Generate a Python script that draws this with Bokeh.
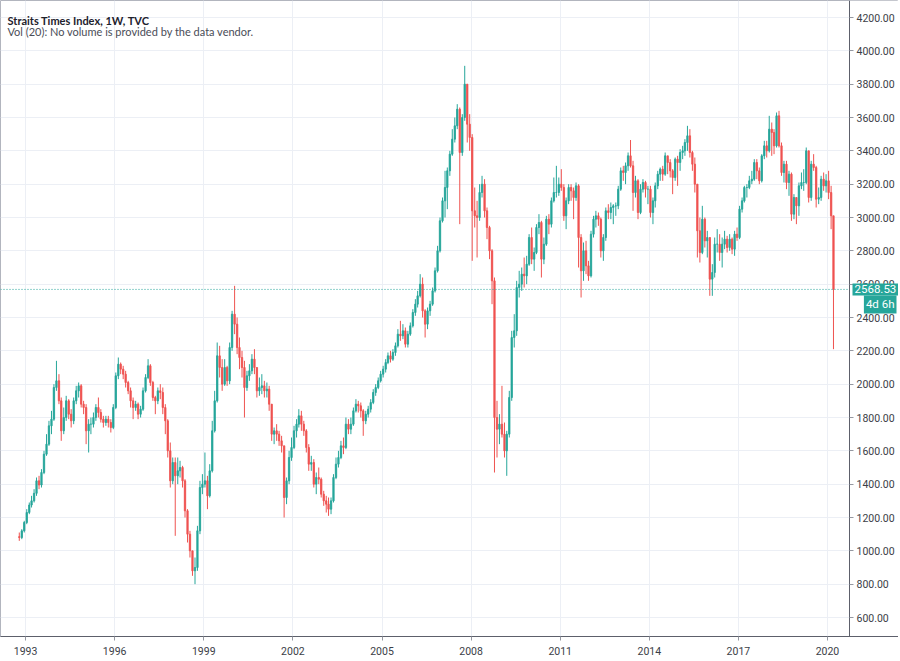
import pandas as pd
from bokeh.plotting import figure
from bokeh.models import (ColumnDataSource, Range1d, FixedTicker, NumeralTickFormatter,
                          DatetimeTickFormatter, Label, BoxAnnotation)
from bokeh.embed import file_html
from bokeh.resources import INLINE

# ---------------- data (monthly OHLC) ----------------
months = list(pd.date_range("1992-10-01", "2020-03-01", freq="MS") + pd.Timedelta(days=14))

open_ = [
    1085, 1080, 1120,
    1170, 1230, 1275, 1300, 1345, 1420, 1395, 1470, 1580, 1640, 1750, 1790,
    1980, 2020, 1900, 1720, 1800, 1900, 1820, 1780, 1900, 1960, 1990, 1880,
    1860, 1720, 1760, 1760, 1800, 1860, 1830, 1790, 1770, 1790, 1770, 1740,
    1860, 2050, 2120, 2090, 2060, 2010, 1960, 1900, 1860, 1880, 1820, 1850,
    1960, 2040, 2110, 2010, 1920, 1900, 1960, 1950, 1860, 1780, 1600, 1420,
    1530, 1450, 1480, 1500, 1420, 1240, 1100, 1000, 880, 900, 1120, 1380,
    1400, 1420, 1330, 1480, 1720, 1900, 2170, 2100, 2000, 2100, 2020, 2220,
    2420, 2360, 2220, 2160, 2100, 1980, 2050, 2080, 2150, 2100, 1960, 1980,
    1990, 1960, 1970, 1880, 1700, 1720, 1700, 1660, 1630, 1320, 1420, 1560,
    1620, 1720, 1760, 1810, 1760, 1720, 1620, 1520, 1530, 1400, 1440, 1430,
    1340, 1300, 1280, 1250, 1300, 1440, 1520, 1560, 1630, 1620, 1760, 1730,
    1760, 1840, 1880, 1870, 1840, 1780, 1820, 1850, 1890, 1950, 1980, 2020,
    2060, 2090, 2130, 2170, 2150, 2190, 2230, 2300, 2290, 2320, 2240, 2300,
    2350, 2430, 2480, 2530, 2600, 2440, 2360, 2440, 2480, 2560, 2680, 2800,
    2980, 3100, 3180, 3280, 3380, 3470, 3550, 3650, 3390, 3600, 3800, 3560,
    3480, 3040, 3010, 3000, 3150, 3200, 3040, 2940, 2800, 2620, 1800, 1730,
    1760, 1700, 1600, 1700, 1920, 2280, 2320, 2580, 2600, 2660, 2650, 2720,
    2880, 2750, 2790, 2940, 2970, 2750, 2840, 2990, 2960, 3100, 3150, 3150,
    3200, 3180, 3010, 3100, 3180, 3160, 3120, 3190, 2880, 2680, 2800, 2710,
    2650, 2900, 2990, 3010, 2990, 2800, 2880, 3040, 3030, 3060, 3070, 3070,
    3170, 3280, 3270, 3310, 3370, 3310, 3150, 3220, 3030, 3170, 3210, 3170,
    3170, 3030, 3100, 3190, 3260, 3290, 3260, 3370, 3330, 3280, 3240, 3350,
    3330, 3390, 3400, 3450, 3490, 3390, 3320, 3200, 2920, 2790, 2990, 2860,
    2880, 2630, 2670, 2840, 2840, 2790, 2840, 2870, 2820, 2870, 2810, 2900,
    2880, 3050, 3100, 3180, 3180, 3220, 3230, 3330, 3280, 3220, 3370, 3430,
    3400, 3530, 3510, 3430, 3610, 3430, 3270, 3320, 3210, 3260, 3020, 3120,
    3070, 3190, 3210, 3210, 3400, 3120, 3320, 3300, 3110, 3120, 3230, 3190,
    3220, 3150, 3010,
]

high = [
    1110, 1130, 1180,
    1250, 1290, 1330, 1370, 1440, 1450, 1490, 1600, 1700, 1780, 1840, 2000,
    2140, 2060, 1920, 1860, 1930, 1910, 1850, 1920, 1990, 2010, 2000, 1900,
    1880, 1790, 1800, 1830, 1880, 1920, 1850, 1810, 1810, 1810, 1790, 1880,
    2070, 2160, 2130, 2110, 2080, 2020, 1980, 1920, 1900, 1890, 1870, 1980,
    2060, 2150, 2120, 2020, 1930, 1980, 2000, 1980, 1880, 1790, 1650, 1560,
    1560, 1560, 1540, 1510, 1430, 1250, 1120, 1000, 960, 1150, 1420, 1460,
    1590, 1450, 1520, 1780, 1960, 2250, 2230, 2150, 2150, 2110, 2250, 2440,
    2590, 2400, 2280, 2200, 2140, 2080, 2120, 2180, 2210, 2100, 2040, 2060,
    2020, 2010, 1990, 1880, 1740, 1760, 1720, 1690, 1630, 1440, 1600, 1680,
    1750, 1790, 1850, 1840, 1780, 1730, 1640, 1570, 1550, 1470, 1500, 1440,
    1360, 1330, 1320, 1320, 1460, 1560, 1600, 1660, 1680, 1800, 1790, 1800,
    1860, 1910, 1900, 1890, 1850, 1840, 1870, 1910, 1970, 2000, 2040, 2080,
    2110, 2150, 2190, 2200, 2210, 2250, 2330, 2380, 2360, 2340, 2320, 2370,
    2450, 2510, 2560, 2660, 2640, 2450, 2460, 2500, 2580, 2700, 2830, 3000,
    3120, 3280, 3300, 3400, 3530, 3600, 3680, 3660, 3620, 3910, 3800, 3620,
    3500, 3180, 3100, 3200, 3250, 3230, 3060, 2950, 2810, 2640, 1900, 1820,
    1990, 1770, 1720, 1960, 2320, 2420, 2620, 2680, 2700, 2760, 2770, 2900,
    2940, 2820, 2960, 3020, 2980, 2880, 3010, 3020, 3120, 3240, 3310, 3240,
    3290, 3200, 3120, 3200, 3200, 3180, 3210, 3200, 2900, 2850, 2860, 2740,
    2920, 3010, 3040, 3030, 3000, 2900, 3060, 3080, 3090, 3080, 3090, 3190,
    3300, 3310, 3330, 3390, 3465, 3340, 3250, 3230, 3200, 3230, 3220, 3190,
    3190, 3120, 3210, 3280, 3300, 3310, 3390, 3360, 3350, 3290, 3360, 3370,
    3410, 3430, 3470, 3550, 3530, 3400, 3360, 3200, 3000, 3070, 3000, 2920,
    2880, 2720, 2880, 2930, 2900, 2880, 2920, 2890, 2900, 2880, 2920, 2940,
    3070, 3120, 3190, 3200, 3250, 3280, 3350, 3350, 3300, 3380, 3460, 3460,
    3610, 3570, 3530, 3630, 3640, 3450, 3340, 3340, 3280, 3270, 3140, 3120,
    3210, 3270, 3290, 3420, 3400, 3340, 3380, 3310, 3180, 3250, 3270, 3260,
    3280, 3190, 3010,
]

low = [
    1060, 1070, 1110,
    1160, 1220, 1260, 1290, 1330, 1370, 1380, 1460, 1570, 1630, 1700, 1780,
    1960, 1880, 1660, 1700, 1780, 1790, 1740, 1760, 1880, 1920, 1860, 1820,
    1640, 1590, 1700, 1740, 1780, 1800, 1770, 1740, 1750, 1740, 1710, 1730,
    1850, 2030, 2060, 2030, 1980, 1940, 1860, 1790, 1840, 1790, 1800, 1840,
    1950, 2030, 1990, 1900, 1820, 1880, 1910, 1820, 1700, 1560, 1380, 1400,
    1090, 1400, 1440, 1380, 1200, 1050, 960, 850, 800, 880, 1100, 1340,
    1380, 1250, 1320, 1470, 1710, 1890, 2040, 1960, 1990, 1990, 2000, 2200,
    2300, 2180, 2090, 2040, 1800, 1960, 2020, 2060, 2060, 1920, 1930, 1940,
    1920, 1920, 1840, 1660, 1640, 1660, 1630, 1590, 1200, 1280, 1400, 1540,
    1610, 1680, 1740, 1720, 1690, 1590, 1480, 1480, 1380, 1340, 1400, 1320,
    1270, 1230, 1210, 1220, 1290, 1430, 1500, 1550, 1580, 1610, 1700, 1700,
    1750, 1830, 1830, 1800, 1690, 1760, 1800, 1830, 1880, 1930, 1970, 2010,
    2040, 2070, 2120, 2130, 2140, 2170, 2220, 2260, 2270, 2220, 2220, 2290,
    2340, 2410, 2460, 2520, 2400, 2280, 2330, 2410, 2470, 2550, 2670, 2790,
    2970, 3000, 3050, 3250, 3370, 3450, 3530, 2960, 3370, 3580, 3450, 3400,
    2740, 2940, 2760, 2980, 3120, 3000, 2870, 2750, 2480, 1470, 1560, 1640,
    1680, 1560, 1450, 1680, 1900, 2220, 2290, 2520, 2560, 2580, 2600, 2710,
    2720, 2680, 2780, 2900, 2640, 2720, 2830, 2900, 2940, 3090, 3120, 3130,
    3160, 2980, 2930, 3080, 3100, 2990, 3100, 2700, 2520, 2620, 2660, 2620,
    2640, 2880, 2940, 2950, 2760, 2740, 2860, 2990, 2990, 2960, 3010, 3050,
    3160, 3220, 3200, 3280, 3300, 3040, 3120, 2990, 3020, 3150, 3120, 3080,
    3000, 2960, 3060, 3170, 3220, 3220, 3250, 3260, 3240, 3140, 3220, 3190,
    3280, 3350, 3370, 3400, 3360, 3280, 3150, 2760, 2730, 2780, 2820, 2760,
    2530, 2530, 2640, 2790, 2740, 2700, 2810, 2790, 2800, 2780, 2770, 2860,
    2870, 3030, 3090, 3120, 3170, 3200, 3220, 3230, 3200, 3210, 3350, 3360,
    3390, 3370, 3380, 3420, 3420, 3250, 3210, 3170, 3130, 2980, 2990, 2960,
    3010, 3170, 3160, 3200, 3090, 3100, 3280, 3060, 3080, 3100, 3160, 3150,
    3110, 2930, 2210,
]

close = [
    1080, 1120, 1170,
    1230, 1275, 1300, 1345, 1420, 1395, 1470, 1580, 1640, 1750, 1790, 1980,
    2020, 1900, 1720, 1800, 1900, 1820, 1780, 1900, 1960, 1990, 1880, 1860,
    1720, 1760, 1760, 1800, 1860, 1830, 1790, 1770, 1790, 1770, 1740, 1860,
    2050, 2120, 2090, 2060, 2010, 1960, 1900, 1860, 1880, 1820, 1850, 1960,
    2040, 2110, 2010, 1920, 1900, 1960, 1950, 1860, 1780, 1600, 1420, 1530,
    1450, 1480, 1500, 1420, 1240, 1100, 1000, 880, 900, 1120, 1380, 1400,
    1420, 1330, 1480, 1720, 1900, 2170, 2100, 2000, 2100, 2020, 2220, 2420,
    2360, 2220, 2160, 2100, 1980, 2050, 2080, 2150, 2100, 1960, 1980, 1990,
    1960, 1970, 1880, 1700, 1720, 1700, 1660, 1630, 1320, 1420, 1560, 1620,
    1720, 1760, 1810, 1760, 1720, 1620, 1520, 1530, 1400, 1440, 1430, 1340,
    1300, 1280, 1250, 1300, 1440, 1520, 1560, 1630, 1620, 1760, 1730, 1760,
    1840, 1880, 1870, 1840, 1780, 1820, 1850, 1890, 1950, 1980, 2020, 2060,
    2090, 2130, 2170, 2150, 2190, 2230, 2300, 2290, 2320, 2240, 2300, 2350,
    2430, 2480, 2530, 2600, 2440, 2360, 2440, 2480, 2560, 2680, 2800, 2980,
    3100, 3180, 3280, 3380, 3470, 3550, 3650, 3390, 3600, 3800, 3560, 3480,
    3040, 3010, 3000, 3150, 3200, 3040, 2940, 2800, 2620, 1800, 1730, 1760,
    1700, 1600, 1700, 1920, 2280, 2320, 2580, 2600, 2660, 2650, 2720, 2880,
    2750, 2790, 2940, 2970, 2750, 2840, 2990, 2960, 3100, 3150, 3150, 3200,
    3180, 3010, 3100, 3180, 3160, 3120, 3190, 2880, 2680, 2800, 2710, 2650,
    2900, 2990, 3010, 2990, 2800, 2880, 3040, 3030, 3060, 3070, 3070, 3170,
    3280, 3270, 3310, 3370, 3310, 3150, 3220, 3030, 3170, 3210, 3170, 3170,
    3030, 3100, 3190, 3260, 3290, 3260, 3370, 3330, 3280, 3240, 3350, 3330,
    3390, 3400, 3450, 3490, 3390, 3320, 3200, 2920, 2790, 2990, 2860, 2880,
    2630, 2670, 2840, 2840, 2790, 2840, 2870, 2820, 2870, 2810, 2900, 2880,
    3050, 3100, 3180, 3180, 3220, 3230, 3330, 3280, 3220, 3370, 3430, 3400,
    3530, 3510, 3430, 3610, 3430, 3270, 3320, 3210, 3260, 3020, 3120, 3070,
    3190, 3210, 3210, 3400, 3120, 3320, 3300, 3110, 3120, 3230, 3190, 3220,
    3150, 3010, 2568.53,
]

year_ticks = ["1993", "1996", "1999", "2002", "2005", "2008", "2011", "2014", "2017", "2020"]
price_ticks = [600, 800, 1000, 1200, 1400, 1600, 1800, 2000, 2200, 2400,
               2600, 2800, 3000, 3200, 3400, 3600, 3800, 4000, 4200]
last_price = 2568.53
last_price_text = "2568.53"
countdown_text = "4d 6h"
title_text = "Straits Times Index, 1W, TVC"
volume_text = "Vol (20): No volume is provided by the data vendor."

UP = "#26a69a"
DOWN = "#ef5350"

# ---------------- figure ----------------
FW, FH = 898, 636          # frame spans chart area + price-scale strip
PANE_W = 849               # width of the chart pane; price scale to its right
ms = lambda t: pd.Timestamp(t).value / 1e6
x_start = ms("1992-02-27")
x_scale_edge = ms("2020-09-28")                      # date at the price-scale line
x_end = x_start + (x_scale_edge - x_start) * FW / PANE_W
Y0, Y1 = 486, 4302

p = figure(frame_width=FW, frame_height=FH, x_axis_type="datetime", y_axis_location="right",
           x_range=Range1d(x_start, x_end), y_range=Range1d(Y0, Y1),
           output_backend="svg", toolbar_location=None,
           min_border_left=0, min_border_top=0, min_border_right=0, min_border_bottom=0,
           background_fill_color="white", border_fill_color="white")

grid_col = "#eceff5"
axis_col = "#5d606b"
text_col = "#3b3e47"

p.xgrid.grid_line_color = grid_col
p.ygrid.grid_line_color = grid_col
year_ms = [ms(y + "-01-01") for y in year_ticks]
p.xgrid.ticker = FixedTicker(ticks=year_ms)
p.ygrid.ticker = FixedTicker(ticks=price_ticks)

# blank strip behind the price scale (covers the grid there)
p.add_layout(BoxAnnotation(left=x_scale_edge, fill_color="white", fill_alpha=1.0,
                           line_color=None, level="underlay"))

up = [c >= o for o, c in zip(open_, close)]
src = ColumnDataSource(dict(
    date=months, high=high, low=low,
    top=[max(o, c) for o, c in zip(open_, close)],
    bottom=[min(o, c) for o, c in zip(open_, close)],
    color=[UP if u else DOWN for u in up],
))

p.segment(x0="date", y0="low", x1="date", y1="high", color="color", line_width=1, source=src)
p.vbar(x="date", width=17 * 24 * 3600 * 1000, top="top", bottom="bottom",
       fill_color="color", line_color="color", line_width=0.8, source=src)

# last price dotted line across the pane
p.segment(x0=[x_start], x1=[x_scale_edge], y0=[last_price], y1=[last_price],
          line_color=UP, line_dash="1 2", line_width=1)

# axes
p.yaxis.fixed_location = x_scale_edge
p.yaxis.ticker = FixedTicker(ticks=price_ticks)
p.yaxis.formatter = NumeralTickFormatter(format="0.00")
p.xaxis.ticker = FixedTicker(ticks=year_ms)
p.xaxis.formatter = DatetimeTickFormatter(years="%Y", months="%Y", days="%Y", hours="%Y",
                                          minutes="%Y", seconds="%Y")
for ax in (p.xaxis[0], p.yaxis[0]):
    ax.axis_line_color = axis_col
    ax.major_tick_line_color = "#9598a1"
    ax.major_tick_out = 4
    ax.major_tick_in = 0
    ax.minor_tick_line_color = None
    ax.major_label_text_font = "Roboto"
    ax.major_label_text_font_size = "10.5px"
    ax.major_label_text_color = text_col
p.yaxis.major_label_standoff = 3
p.xaxis.major_label_standoff = 6
p.outline_line_color = "#b2b5be"

# price tags on the scale
tag_y = FH * (last_price - Y0) / (Y1 - Y0)
p.add_layout(Label(x=PANE_W + 3, y=tag_y, x_units="screen", y_units="screen",
                   text=last_price_text,
                   text_font="Roboto", text_font_size="11.5px", text_color="white",
                   text_baseline="middle", text_align="left",
                   background_fill_color=UP, background_fill_alpha=1.0,
                   border_line_color=None, padding=2))
p.add_layout(Label(x=FW - 2, y=tag_y - 15, x_units="screen", y_units="screen",
                   text=countdown_text,
                   text_font="Roboto", text_font_size="11.5px", text_color="white",
                   text_baseline="middle", text_align="right",
                   background_fill_color=UP, background_fill_alpha=1.0,
                   border_line_color=None, padding=2))

# header texts
p.add_layout(Label(x=7, y=FH - 19.5, x_units="screen", y_units="screen", text=title_text,
                   text_font="Lato", text_font_size="11px", text_font_style="bold",
                   text_color="#1e222d", text_baseline="alphabetic"))
p.add_layout(Label(x=7, y=FH - 30.5, x_units="screen", y_units="screen", text=volume_text,
                   text_font="Lato", text_font_size="11px",
                   text_color="#4a4d57", text_baseline="alphabetic"))

open("out.html", "w").write(file_html(p, INLINE))
